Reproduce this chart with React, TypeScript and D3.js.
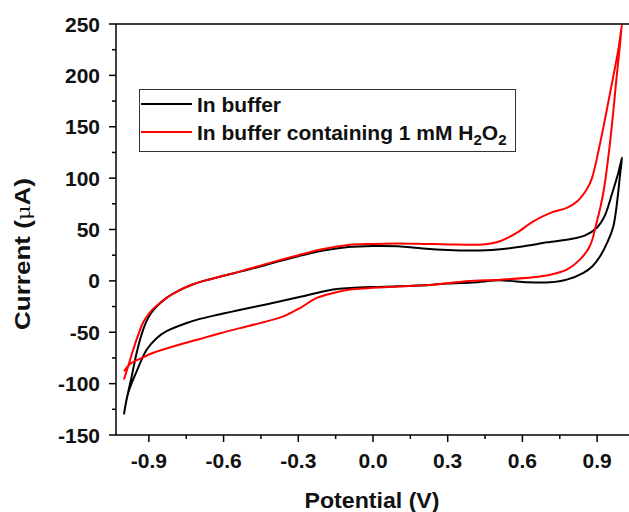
import React from "react";
import * as d3 from "d3";

const W = 629;
const H = 512;

// Cyclic voltammograms: potential (V) and current (µA), in scan order
const bufferV = [
  -1.0, -0.99, -0.969, -0.949, -0.929, -0.909, -0.89, -0.869, -0.829, -0.78, -0.73, -0.68, -0.62, -0.55, -0.5, -0.4, -0.3, -0.2, -0.1, 0.0, 0.1, 0.2, 0.3, 0.4, 0.5, 0.6, 0.7, 0.8, 0.85, 0.9, 0.93, 0.96, 0.985, 1.0,
  0.993, 0.965, 0.94, 0.912, 0.88, 0.845, 0.778, 0.711, 0.62, 0.55, 0.51, 0.4, 0.3, 0.24, 0.1, 0.0, -0.09, -0.16, -0.3, -0.43, -0.55, -0.614, -0.695, -0.748, -0.829, -0.87, -0.909, -0.949, -0.983, -1.0,
];
const bufferI = [
  -130, -116, -93, -70, -52, -39, -31, -25, -16.5, -9.5, -4, 0, 3.8, 8, 11, 17.5, 24, 29.5, 33, 34, 33.7, 31.5, 30, 29.5, 30.5, 33.5, 37.5, 41, 44, 52, 63, 85, 105, 120,
  105, 53, 37, 24, 14, 7.8, 1.2, -1.4, -1.4, 0, 0.5, -1.5, -2.5, -3.7, -5.3, -6, -7, -8.5, -16, -23, -29, -32.5, -37, -41, -49, -56, -67, -88, -109, -130,
];

const h2o2V = [
  -1.0, -0.983, -0.963, -0.942, -0.922, -0.9, -0.882, -0.86, -0.829, -0.78, -0.73, -0.68, -0.62, -0.55, -0.5, -0.4, -0.3, -0.2, -0.1, 0.0, 0.1, 0.2, 0.3, 0.44, 0.51, 0.577, 0.644, 0.711, 0.778, 0.818, 0.858, 0.878, 0.912, 0.952, 0.985, 1.0,
  0.979, 0.952, 0.925, 0.898, 0.871, 0.831, 0.778, 0.711, 0.644, 0.51, 0.376, 0.242, 0.1, -0.092, -0.159, -0.226, -0.293, -0.36, -0.427, -0.534, -0.614, -0.695, -0.762, -0.882, -0.928, -0.976, -1.0,
];
const h2o2I = [
  -96, -83, -67, -52, -40, -32, -27, -22.5, -16.5, -9.5, -4, 0, 3.8, 8, 11.5, 18.5, 25, 31, 35, 36, 36.3, 36, 35.5, 35.4, 38.6, 46.8, 58, 66, 71, 77, 89, 99, 134, 183, 225, 250,
  200, 135, 86, 56.5, 34, 20.7, 11, 6, 3.5, 1.2, -0.4, -3.7, -5.5, -8.5, -11.8, -16.6, -26.4, -34.6, -39.4, -46, -51, -56.5, -61, -70, -75, -81, -88,
];

const xTicks = [-0.9, -0.6, -0.3, 0.0, 0.3, 0.6, 0.9];
const xMinor = [-0.75, -0.45, -0.15, 0.15, 0.45, 0.75];
const yTicks = [-150, -100, -50, 0, 50, 100, 150, 200, 250];
const yMinor = [-125, -75, -25, 25, 75, 125, 175, 225];

const seriesNames = ["In buffer", "In buffer containing 1 mM H"];
const seriesColors = ["#000000", "#ff0000"];

const FONT = "'Liberation Sans', Arial, sans-serif";

export default function App() {
  const x = d3.scaleLinear().domain([-1.032, 1.028]).range([116, 629]);
  const y = d3.scaleLinear().domain([-150, 250]).range([435, 24]);

  const line = d3
    .line<[number, number]>()
    .x((d) => x(d[0]))
    .y((d) => y(d[1]))
    .curve(d3.curveCatmullRom.alpha(0.5));

  const series = [
    { v: bufferV, i: bufferI },
    { v: h2o2V, i: h2o2I },
  ];

  const left = 116;
  const bottom = 435;
  const top = 24;

  return (
    <div style={{ position: "absolute", left: 0, top: 0 }}>
      <svg width={W} height={H} style={{ display: "block", background: "#fff" }} fontFamily={FONT}>
        {series.map((s, k) => (
          <path
            key={k}
            d={line(s.v.map((v, j) => [v, s.i[j]] as [number, number])) || ""}
            fill="none"
            stroke={seriesColors[k]}
            strokeWidth={2}
            strokeLinejoin="round"
          />
        ))}

        {/* frame */}
        <line x1={left} x2={W} y1={top} y2={top} stroke="#000" strokeWidth={1.5} />
        <line x1={left} x2={left} y1={top} y2={bottom} stroke="#000" strokeWidth={1.5} />
        <line x1={left} x2={W} y1={bottom} y2={bottom} stroke="#000" strokeWidth={1.5} />

        {/* x ticks */}
        {xTicks.map((t) => (
          <g key={"xt" + t}>
            <line x1={x(t)} x2={x(t)} y1={bottom} y2={bottom + 7} stroke="#000" strokeWidth={1.5} />
            <text x={x(t)} y={468} textAnchor="middle" fontSize={21} fontWeight="bold" fill="#111">
              {t.toFixed(1)}
            </text>
          </g>
        ))}
        {xMinor.map((t) => (
          <line key={"xm" + t} x1={x(t)} x2={x(t)} y1={bottom} y2={bottom + 4} stroke="#000" strokeWidth={1.5} />
        ))}

        {/* y ticks */}
        {yTicks.map((t) => (
          <g key={"yt" + t}>
            <line x1={left - 7} x2={left} y1={y(t)} y2={y(t)} stroke="#000" strokeWidth={1.5} />
            <text x={100} y={y(t) + 7.5} textAnchor="end" fontSize={21} fontWeight="bold" fill="#111">
              {t}
            </text>
          </g>
        ))}
        {yMinor.map((t) => (
          <line key={"ym" + t} x1={left - 4} x2={left} y1={y(t)} y2={y(t)} stroke="#000" strokeWidth={1.5} />
        ))}

        {/* axis titles */}
        <text x={372} y={508} textAnchor="middle" fontSize={22} fontWeight="bold" fill="#111" textLength={135} lengthAdjust="spacingAndGlyphs">
          Potential (V)
        </text>
        <text
          transform="translate(30,254) rotate(-90)"
          textAnchor="middle"
          fontSize={22}
          fontWeight="bold"
          fill="#111"
          textLength={152}
          lengthAdjust="spacingAndGlyphs"
        >
          Current (<tspan fontWeight="normal" fontFamily="'DejaVu Serif', serif" fontSize={19}>μ</tspan>A)
        </text>

        {/* legend */}
        <rect x={139.5} y={89.5} width={376} height={62} fill="#fff" stroke="#333" strokeWidth={1} />
        {seriesNames.map((name, k) => {
          const ly = 104 + k * 28;
          return (
            <g key={"lg" + k}>
              <line x1={141} x2={192} y1={ly} y2={ly} stroke={seriesColors[k]} strokeWidth={2} />
              <text x={197} y={ly + 7.5} fontSize={21} fontWeight="bold" fill="#111">
                {name}
                {k === 1 && (
                  <>
                    <tspan fontSize={15} dy={5}>2</tspan>
                    <tspan dy={-5}>O</tspan>
                    <tspan fontSize={15} dy={5}>2</tspan>
                  </>
                )}
              </text>
            </g>
          );
        })}
      </svg>
    </div>
  );
}
